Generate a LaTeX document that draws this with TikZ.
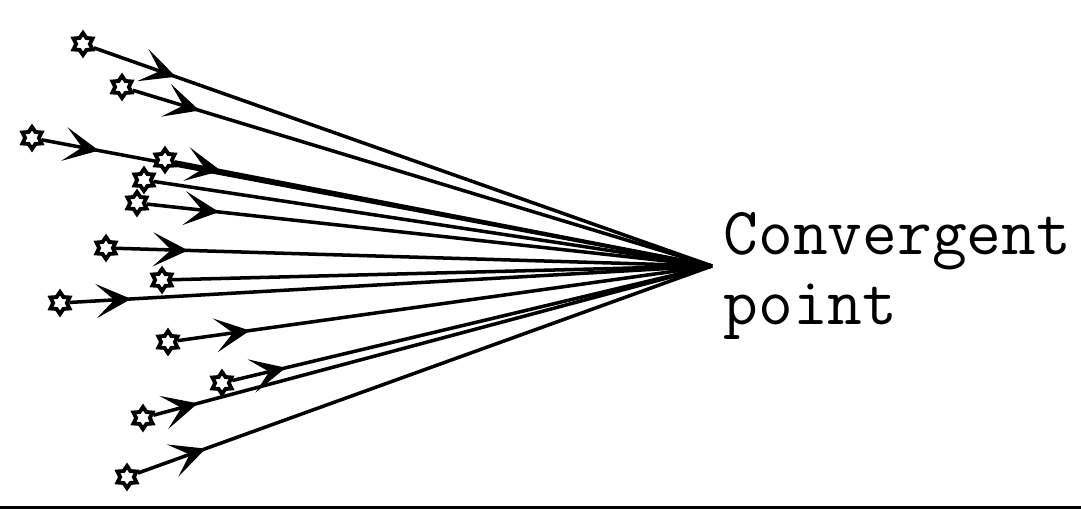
\documentclass[tikz,border=0pt]{standalone}
\usepackage{amsmath}
\usetikzlibrary{arrows.meta,shapes.geometric,decorations.markings,backgrounds}

\tikzset{flow/.style={line width=1pt, postaction={decorate, decoration={markings, mark=at position #1 with {\arrow{Stealth[length=0.35cm, width=0.34cm, inset=0.18cm]}}}}}}

\begin{document}
\begin{tikzpicture}
\tikzstyle{every node}=[inner sep=0pt]
\tikzstyle{meteor}=[star, star points=6, star point ratio=1.6, minimum size=0.22cm, draw, line width=1.1pt, fill=white]
\tikzstyle{trail}=[line width=1pt]
\tikzstyle{convtext}=[font=\ttfamily\fontsize{19.2pt}{20pt}\selectfont, anchor=base west]
\useasboundingbox (0,0) rectangle (10.81,5.09);
\coordinate (conv) at (7.12,2.43);
\node [meteor] (s1) at (0.83,4.65) {};
\node [meteor] (s2) at (1.22,4.22) {};
\node [meteor] (s3) at (0.32,3.71) {};
\node [meteor] (s4) at (1.65,3.49) {};
\node [meteor] (s5) at (1.44,3.29) {};
\node [meteor] (s6) at (1.37,3.06) {};
\node [meteor] (s7) at (1.06,2.61) {};
\node [meteor] (s8) at (1.62,2.29) {};
\node [meteor] (s9) at (0.60,2.06) {};
\node [meteor] (s10) at (1.68,1.67) {};
\node [meteor] (s11) at (2.22,1.26) {};
\node [meteor] (s12) at (1.43,0.91) {};
\node [meteor] (s13) at (1.27,0.32) {};
\begin{scope}[on background layer]
\draw [flow=0.87cm] (s1) -- (conv);
\draw [flow=0.70cm] (s2) -- (conv);
\draw [flow=0.58cm] (s3) -- (conv);
\draw [flow=0.47cm] (s4) -- (conv);
\draw [trail] (s5) -- (conv);
\draw [flow=0.73cm] (s6) -- (conv);
\draw [flow=0.73cm] (s7) -- (conv);
\draw [trail] (s8) -- (conv);
\draw [flow=0.62cm] (s9) -- (conv);
\draw [flow=0.73cm] (s10) -- (conv);
\draw [flow=0.55cm] (s11) -- (conv);
\draw [flow=0.46cm] (s12) -- (conv);
\draw [flow=0.72cm] (s13) -- (conv);
\end{scope}
\node [convtext] (word1) at (7.23,2.54) {Convergent};
\node [convtext] (word2) at (7.23,1.84) {point};
\fill (0,0) rectangle (10.81,0.03);
\end{tikzpicture}
\end{document}
